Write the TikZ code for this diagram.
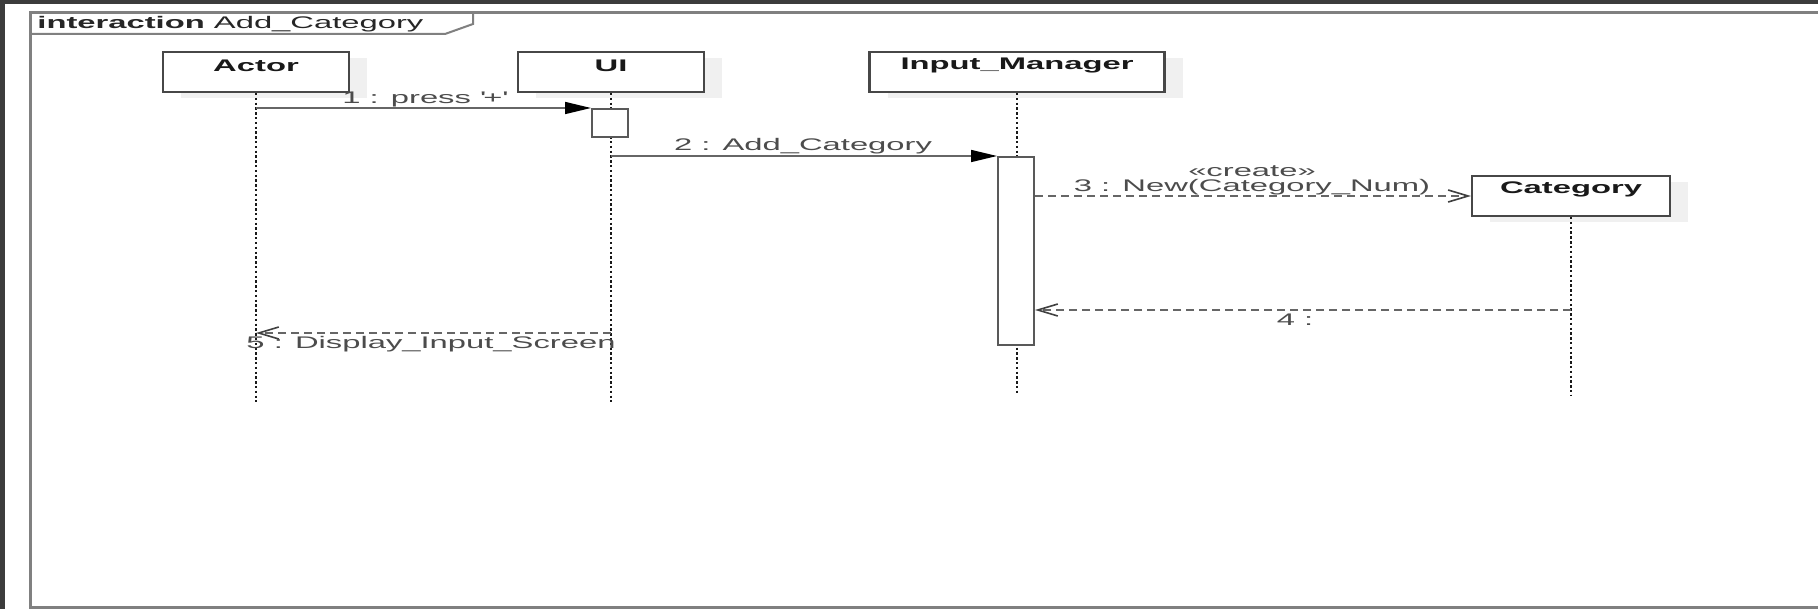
\documentclass[tikz,border=0pt]{standalone}
\usepackage{fontspec}
\setmainfont{Liberation Sans}[FakeStretch=1.95]
\usetikzlibrary{arrows.meta,shadows}
\definecolor{screen}{HTML}{3C3C3C}
\definecolor{framegray}{HTML}{808080}
\tikzset{
  objbox/.style={rectangle, draw=black!72, line width=1.1pt, fill=white,
    minimum height=20pt, inner sep=0pt,
    drop shadow={fill=black!6, opacity=1, shadow xshift=9pt, shadow yshift=-3pt}},
  objname/.style={font=\fontsize{8.4}{10}\selectfont\bfseries, text=black!90, inner sep=0pt},
  lifeline/.style={draw=black!90, line width=1.3pt, dash pattern=on 1.2pt off 1.2pt},
  actbar/.style={rectangle, draw=black!65, line width=1pt, fill=white,
    inner sep=0pt, minimum width=18pt},
  callmsg/.style={draw=black!60, line width=0.8pt,
    -{Triangle[length=13pt,width=6pt,color=black]}},
  replymsg/.style={draw=black!60, line width=0.8pt, dash pattern=on 4pt off 2.5pt,
    -{Straight Barb[length=10pt,width=6pt,color=black!75]}},
  msglabel/.style={text=black!70, inner sep=0pt},
}
\begin{document}
\begin{tikzpicture}[x=0.5pt, y=-0.5pt, font=\fontsize{8.4}{10}\selectfont]
\useasboundingbox (0,0) rectangle (1818,609);
% window surround and page
\fill[screen] (0,0) rectangle (1818,609);
\fill[white] (5,4) rectangle (1818,609);

% interaction frame with its title tab
\draw[framegray, line width=1.5pt] (1818,13) -- (30,13) -- (30,607) -- (1818,607);
\draw[framegray, line width=1pt] (30,34) -- (445,34) -- (473,24) -- (473,13);
\node[anchor=west, inner sep=0pt, text=black!85] (title) at (37,24)
  {\textbf{interaction} Add\_Category};

% lifeline heads
\node[objbox, minimum width=93pt] (actor) at (256,72) {};
\node[objbox, minimum width=93pt] (ui) at (611,72) {};
\node[objbox, minimum width=147.5pt] (im) at (1017,72) {};
\node[objbox, minimum width=99pt] (cat) at (1571,196) {};
\node[objname] (actorname) at ([yshift=-7.5pt]actor.north) {Actor};
\node[objname] (uiname) at ([yshift=-7.5pt]ui.north) {UI};
\node[objname] (imname) at ([yshift=-7.5pt]im.north) {Input\_Manager};
\node[objname] (catname) at ([yshift=-7.5pt]cat.north) {Category};

% lifeline ends
\coordinate (actorend) at (256,402);
\coordinate (uiend) at (611,402);
\coordinate (imend) at (1017,395);
\coordinate (catend) at (1571,395);

\draw[lifeline] (actor.south) -- (actorend);
\draw[lifeline] (ui.south) -- (uiend);
\draw[lifeline] (im.south) -- (imend);
\draw[lifeline] (cat.south) -- (catend);

% activation bars
\node[actbar, minimum height=14pt] (uiact) at (610,123) {};
\node[actbar, minimum height=94pt] (imact) at (1016,251) {};

% message rows
\coordinate (row4) at (0,310);
\coordinate (row5) at (0,333);

% 1: press '+'
\draw[callmsg] (actor.south |- uiact.north west) -- (uiact.north west);
\node[msglabel] (m1) at (424,99) {1 : press \textquotesingle+\textquotesingle};

% 2: Add_Category
\draw[callmsg] (ui.south |- imact.north west) -- (imact.north west);
\node[msglabel] (m2) at (803,146) {2 : Add\_Category};

% 3: create Category
\draw[replymsg] (imact.east |- cat.west) -- (cat.west);
\node[msglabel, align=center, anchor=south, font=\fontsize{8.4}{7.5}\selectfont] (m3)
  at (1252,195) {«create»\\3 : New(Category\_Num)};

% 4: return to Input_Manager
\draw[replymsg] (cat.south |- row4) -- (imact.east |- row4);
\node[msglabel] (m4) at (1295,320) {4 :};

% 5: Display_Input_Screen
\draw[replymsg] (ui.south |- row5) -- (actor.south |- row5);
\node[msglabel] (m5) at (431,344) {5 : Display\_Input\_Screen};
\end{tikzpicture}
\end{document}
